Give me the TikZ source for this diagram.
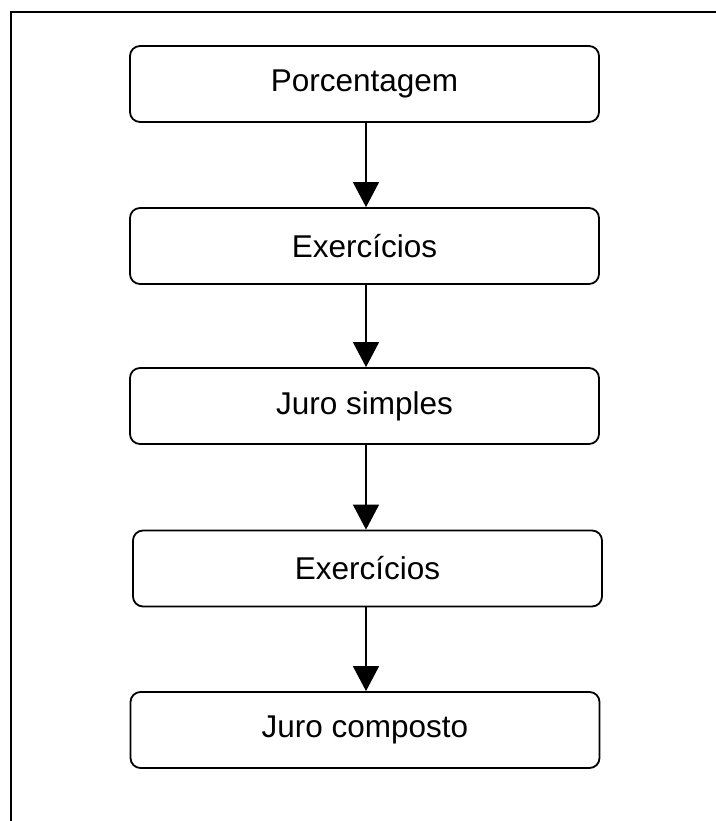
\documentclass[tikz,border=0pt]{standalone}
\usepackage{fontspec}
\setmainfont{Liberation Sans}
\usetikzlibrary{arrows.meta}
\begin{document}
\begin{tikzpicture}[x=1pt,y=1pt,
  stepbox/.style={draw=black, line width=1.8pt, rounded corners=10pt, minimum width=469pt, minimum height=76pt, inner sep=0pt, font=\fontsize{31.5}{36}\selectfont},
  link/.style={line width=1.5pt, -{Triangle[width=26pt,length=25pt]}}]
\useasboundingbox (0,0) rectangle (715,-821);
\draw[line width=2pt] (11,-825) -- (11,-12) -- (720,-12);
\node[stepbox] (a) at (364.5,-84) {Porcentagem};
\node[stepbox] (b) at (364.5,-246) {Exercícios};
\node[stepbox] (c) at (364.5,-406) {Juro simples};
\node[stepbox] (d) at (367.5,-568.5) {Exercícios};
\node[stepbox] (e) at (365,-730) {Juro composto};
\draw[link] (a.south -| 366,0) -- (b.north -| 366,0);
\draw[link] (b.south -| 366,0) -- (c.north -| 366,0);
\draw[link] (c.south -| 366,0) -- (d.north -| 366,0);
\draw[link] (d.south -| 366,0) -- (e.north -| 366,0);
\end{tikzpicture}
\end{document}
